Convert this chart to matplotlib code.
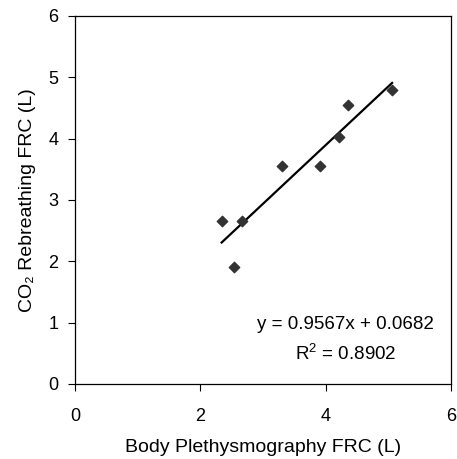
import matplotlib
matplotlib.use("Agg")
import matplotlib.pyplot as plt
import numpy as np

plt.rcParams['font.family'] = ['Liberation Sans', 'DejaVu Sans']
plt.rcParams['mathtext.fontset'] = 'custom'
plt.rcParams['mathtext.rm'] = 'Liberation Sans'

# data
body_frc = [2.34, 2.66, 2.54, 3.30, 3.91, 4.22, 4.35, 5.06]
co2_frc = [2.65, 2.66, 1.90, 3.55, 3.55, 4.02, 4.55, 4.79]
slope = 0.9567
intercept = 0.0682
r2 = 0.8902
ticks = [0, 2, 4, 6]
yticks = [0, 1, 2, 3, 4, 5, 6]

fig = plt.figure(figsize=(4.57, 4.59), dpi=100)
ax = fig.add_axes([75/457, 1-384/459, (451-75)/457, (384-16)/459])

ax.scatter(body_frc, co2_frc, marker='D', s=28, color='#333333', zorder=3)
xs = np.array([min(body_frc), max(body_frc)])
ax.plot(xs, slope*xs + intercept, color='black', linewidth=1.6, zorder=2)

ax.set_xlim(0, 6)
ax.set_ylim(0, 6)
ax.set_xticks(ticks)
ax.set_yticks(yticks)
ax.tick_params(direction='out', length=5, width=0.8, labelsize=13)
ax.tick_params(axis='x', pad=12)
ax.tick_params(axis='y', pad=7)
for s in ax.spines.values():
    s.set_linewidth(0.9)

ax.set_xlabel('Body Plethysmography FRC (L)', fontsize=14, labelpad=10)
ax.set_ylabel('CO\u2082 Rebreathing FRC (L)', fontsize=14, labelpad=9)

ax.text(4.32, 0.72, 'y = %.4fx + %.4f\nR$^{2}$ = %.4f' % (slope, intercept, r2),
        ha='center', va='center', multialignment='center', fontsize=13.5,
        linespacing=1.6)

fig.savefig('out.png', dpi=100)
